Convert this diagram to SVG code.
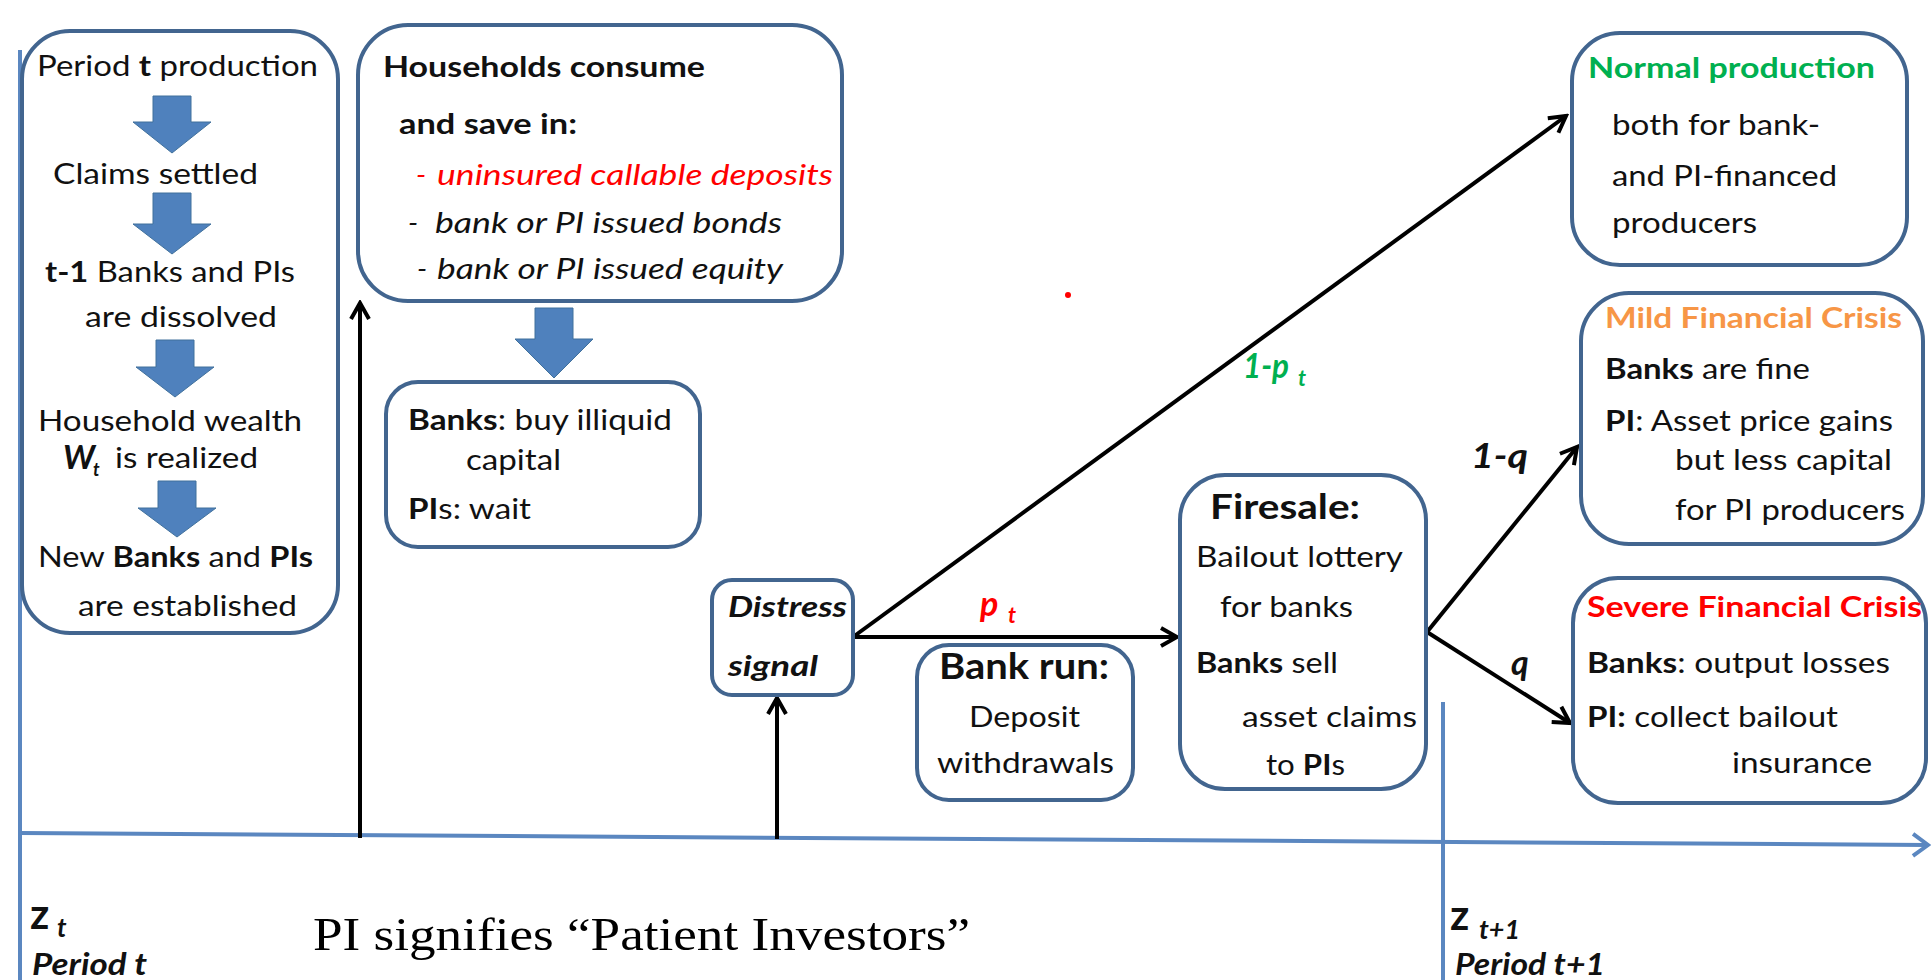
<svg xmlns="http://www.w3.org/2000/svg" width="1932" height="980" viewBox="0 0 1932 980">
<style>
.box{fill:#fff;stroke:#42658f;stroke-width:4}
.t{font-family:Lato,"Liberation Sans",sans-serif;font-size:29px;fill:#111}
.b{font-weight:bold}
.i{font-style:italic}
.con{stroke:#000;stroke-width:4;fill:none}
.blk{fill:#4f81bd;stroke:#41719c;stroke-width:1}
.axis{stroke:#5b87c0;stroke-width:4;fill:none}
.red{fill:#ff0000}
.grn{fill:#00b050}
.org{fill:#f79646}
.serif{font-family:"Liberation Serif","Times New Roman",serif;font-size:46px;fill:#000}
.big{font-size:34px}
.sub{font-size:22px}
.zz{font-size:42px}
.zsub{font-size:26px}
.per{font-size:31px}
</style>
<defs>
<marker id="ah" viewBox="0 0 24 24" refX="21" refY="12" markerWidth="24" markerHeight="24" markerUnits="userSpaceOnUse" orient="auto"><path d="M5,3 L21,12 L5,21" fill="none" stroke="#000" stroke-width="4"/></marker>
<marker id="ahb" viewBox="0 0 24 28" refX="21" refY="14" markerWidth="24" markerHeight="28" markerUnits="userSpaceOnUse" orient="auto"><path d="M6,3 L21,14 L6,25" fill="none" stroke="#5b87c0" stroke-width="4"/></marker>
</defs>
<rect width="1932" height="980" fill="#fff"/>

<g id="axes">
<line class="axis" x1="20" y1="50" x2="20" y2="980"/>
<line class="axis" x1="1443" y1="702" x2="1443" y2="980"/>
<line class="axis" x1="20" y1="833" x2="1928" y2="845" marker-end="url(#ahb)"/>
</g>

<g id="connectors">
<line class="con" x1="360" y1="838" x2="360" y2="303" marker-end="url(#ah)"/>
<line class="con" x1="777" y1="839" x2="777" y2="698" marker-end="url(#ah)"/>
<line class="con" x1="853" y1="637" x2="1177" y2="637" marker-end="url(#ah)"/>
<line class="con" x1="853" y1="637" x2="1566" y2="116" marker-end="url(#ah)"/>
<line class="con" x1="1427" y1="632" x2="1577" y2="447" marker-end="url(#ah)"/>
<line class="con" x1="1427" y1="632" x2="1570" y2="723" marker-end="url(#ah)"/>
<text class="t b i red big" x="980" y="616">p</text>
<text class="t b i red sub" x="1008" y="623">t</text>
<text class="t b i grn big" x="1243" y="378" textLength="46" lengthAdjust="spacingAndGlyphs">1-p</text>
<text class="t b i grn sub" x="1298" y="386">t</text>
<text class="t b i big" x="1471" y="468" textLength="57" lengthAdjust="spacingAndGlyphs">1-q</text>
<text class="t b i big" x="1511" y="675">q</text>
</g>

<g id="node-period">
<rect class="box" x="22" y="31" width="316" height="602" rx="48"/>
<text class="t" x="37" y="76" textLength="281" lengthAdjust="spacingAndGlyphs">Period <tspan class="b">t</tspan> production</text>
<polygon class="blk" points="153,96 191,96 191,122 211,122 172,153 133,122 153,122"/>
<text class="t" x="53" y="184" textLength="205" lengthAdjust="spacingAndGlyphs">Claims settled</text>
<polygon class="blk" points="153,193 191,193 191,224 211,224 172,254 133,224 153,224"/>
<text class="t" x="45" y="282" textLength="250" lengthAdjust="spacingAndGlyphs"><tspan class="b">t-1</tspan> Banks and PIs</text>
<text class="t" x="85" y="327" textLength="192" lengthAdjust="spacingAndGlyphs">are dissolved</text>
<polygon class="blk" points="156,340 194,340 194,367 214,367 175,397 136,367 156,367"/>
<text class="t" x="38" y="431" textLength="264" lengthAdjust="spacingAndGlyphs">Household wealth</text>
<text class="t b i" x="63" y="469" style="font-size:33px">W</text>
<text class="t b i" x="93" y="476" style="font-size:18px">t</text>
<text class="t" x="115" y="468" textLength="143" lengthAdjust="spacingAndGlyphs">is realized</text>
<polygon class="blk" points="158,481 196,481 196,508 216,508 177,537 138,508 158,508"/>
<text class="t" x="38" y="567" textLength="275" lengthAdjust="spacingAndGlyphs">New <tspan class="b">Banks</tspan> and <tspan class="b">PIs</tspan></text>
<text class="t" x="78" y="616" textLength="219" lengthAdjust="spacingAndGlyphs">are established</text>
</g>

<g id="node-households">
<rect class="box" x="358" y="25" width="484" height="276" rx="50"/>
<text class="t b" x="383" y="77" textLength="322" lengthAdjust="spacingAndGlyphs">Households consume</text>
<text class="t b" x="399" y="134" textLength="178" lengthAdjust="spacingAndGlyphs">and save in:</text>
<text class="t i red" x="416" y="185">-</text>
<text class="t i red" x="437" y="185" textLength="396" lengthAdjust="spacingAndGlyphs">uninsured callable deposits</text>
<text class="t i" x="408" y="233">-</text>
<text class="t i" x="435" y="233" textLength="347" lengthAdjust="spacingAndGlyphs">bank or PI issued bonds</text>
<text class="t i" x="417" y="279">-</text>
<text class="t i" x="437" y="279" textLength="346" lengthAdjust="spacingAndGlyphs">bank or PI issued equity</text>
</g>

<g id="node-investment">
<polygon class="blk" points="535,308 573,308 573,339 593,339 554,378 515,339 535,339"/>
<rect class="box" x="386" y="382" width="314" height="165" rx="32"/>
<text class="t" x="408" y="430" textLength="264" lengthAdjust="spacingAndGlyphs"><tspan class="b">Banks</tspan>: buy illiquid</text>
<text class="t" x="466" y="470" textLength="95" lengthAdjust="spacingAndGlyphs">capital</text>
<text class="t" x="408" y="519" textLength="123" lengthAdjust="spacingAndGlyphs"><tspan class="b">PI</tspan>s: wait</text>
</g>

<g id="node-distress">
<rect class="box" x="712" y="580" width="141" height="115" rx="20"/>
<text class="t b i" x="728" y="617" textLength="119" lengthAdjust="spacingAndGlyphs">Distress</text>
<text class="t b i" x="728" y="676" textLength="90" lengthAdjust="spacingAndGlyphs">signal</text>
</g>

<g id="node-bankrun">
<rect class="box" x="917" y="645" width="216" height="155" rx="32"/>
<text class="t b" x="939" y="679" style="font-size:36px" textLength="170" lengthAdjust="spacingAndGlyphs">Bank run:</text>
<text class="t" x="969" y="727" textLength="111" lengthAdjust="spacingAndGlyphs">Deposit</text>
<text class="t" x="937" y="773" textLength="177" lengthAdjust="spacingAndGlyphs">withdrawals</text>
</g>

<g id="node-firesale">
<rect class="box" x="1180" y="475" width="246" height="314" rx="45"/>
<text class="t b" x="1210" y="519" style="font-size:34px" textLength="150" lengthAdjust="spacingAndGlyphs">Firesale:</text>
<text class="t" x="1196" y="567" textLength="207" lengthAdjust="spacingAndGlyphs">Bailout lottery</text>
<text class="t" x="1220" y="617" textLength="133" lengthAdjust="spacingAndGlyphs">for banks</text>
<text class="t" x="1196" y="673" textLength="142" lengthAdjust="spacingAndGlyphs"><tspan class="b">Banks</tspan> sell</text>
<text class="t" x="1242" y="727" textLength="175" lengthAdjust="spacingAndGlyphs">asset claims</text>
<text class="t" x="1266" y="775" textLength="79" lengthAdjust="spacingAndGlyphs">to <tspan class="b">PI</tspan>s</text>
</g>

<g id="node-normal">
<rect class="box" x="1572" y="33" width="335" height="232" rx="48"/>
<text class="t b grn" x="1588" y="78" textLength="287" lengthAdjust="spacingAndGlyphs">Normal production</text>
<text class="t" x="1612" y="135" textLength="208" lengthAdjust="spacingAndGlyphs">both for bank-</text>
<text class="t" x="1612" y="186" textLength="225" lengthAdjust="spacingAndGlyphs">and PI-financed</text>
<text class="t" x="1612" y="233" textLength="145" lengthAdjust="spacingAndGlyphs">producers</text>
</g>

<g id="node-mild">
<rect class="box" x="1581" y="293" width="342" height="251" rx="48"/>
<text class="t b org" x="1605" y="328" textLength="297" lengthAdjust="spacingAndGlyphs">Mild Financial Crisis</text>
<text class="t" x="1605" y="379" textLength="205" lengthAdjust="spacingAndGlyphs"><tspan class="b">Banks</tspan> are fine</text>
<text class="t" x="1605" y="431" textLength="288" lengthAdjust="spacingAndGlyphs"><tspan class="b">PI</tspan>: Asset price gains</text>
<text class="t" x="1675" y="470" textLength="217" lengthAdjust="spacingAndGlyphs">but less capital</text>
<text class="t" x="1675" y="520" textLength="230" lengthAdjust="spacingAndGlyphs">for PI producers</text>
</g>

<g id="node-severe">
<rect class="box" x="1573" y="578" width="353" height="225" rx="45"/>
<text class="t b red" x="1587" y="617" textLength="335" lengthAdjust="spacingAndGlyphs">Severe Financial Crisis</text>
<text class="t" x="1587" y="673" textLength="303" lengthAdjust="spacingAndGlyphs"><tspan class="b">Banks</tspan>: output losses</text>
<text class="t" x="1587" y="727" textLength="251" lengthAdjust="spacingAndGlyphs"><tspan class="b">PI:</tspan> collect bailout</text>
<text class="t" x="1732" y="773" textLength="140" lengthAdjust="spacingAndGlyphs">insurance</text>
</g>

<g id="labels">
<text class="t b zz" x="30" y="929">z</text>
<text class="t b i zsub" x="57" y="937">t</text>
<text class="t b i per" x="32" y="975" textLength="115" lengthAdjust="spacingAndGlyphs">Period t</text>
<text class="serif" x="313" y="950" textLength="657" lengthAdjust="spacingAndGlyphs">PI signifies “Patient Investors”</text>
<text class="t b zz" x="1450" y="930">z</text>
<text class="t b i zsub" x="1479" y="939" textLength="41" lengthAdjust="spacingAndGlyphs">t+1</text>
<text class="t b i per" x="1455" y="975" textLength="150" lengthAdjust="spacingAndGlyphs">Period t+1</text>
<circle cx="1068" cy="295" r="3" fill="#ff0000"/>
</g>
</svg>
